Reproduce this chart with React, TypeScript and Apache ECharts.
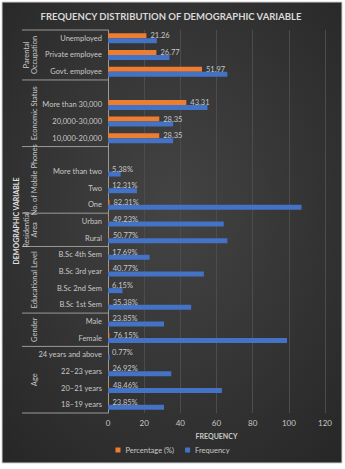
import React, { useEffect, useRef } from "react";
import * as echarts from "echarts";

const titleText = "FREQUENCY DISTRIBUTION OF DEMOGRAPHIC VARIABLE";

// top to bottom
const categories = [
  "Unemployed", "Private employee", "Govt. employee",
  " ", "More than 30,000", "20,000-30,000", "10,000-20,000",
  "  ", "More than two", "Two", "One",
  "Urban", "Rural",
  "B.Sc 4th Sem", "B.Sc 3rd year", "B.Sc 2nd Sem", "B.Sc 1st Sem",
  "Male", "Female",
  "24 years and above", "22–23 years", "20–21 years", "18–19 years",
];

const frequency = [
  27, 34, 66,
  null, 55, 36, 36,
  null, 7, 16, 107,
  64, 66,
  23, 53, 8, 46,
  31, 99,
  1, 35, 63, 31,
];

const percentage = [
  21.26, 26.77, 51.97,
  null, 43.31, 28.35, 28.35,
  null, 0.0538, 0.1231, 0.8231,
  0.4923, 0.5077,
  0.1769, 0.4077, 0.0615, 0.3538,
  0.2385, 0.7615,
  0.0077, 0.2692, 0.4846, 0.2385,
];

// group name, number of categories
const groups: [string, number][] = [
  ["Parental\nOccupation", 3],
  ["Economic Status", 4],
  ["No. of Mobile Phones", 4],
  ["Residential\nArea", 2],
  ["Educational Level", 4],
  ["Gender", 2],
  ["Age", 4],
];

const xTicks = [0, 120, 20];

const FONT = "Lato, 'Liberation Sans', sans-serif";
const LABEL = "#c8c8c8";
const LINE = "#9a9a9a";

export default function App() {
  const ref = useRef<HTMLDivElement>(null);
  useEffect(() => {
    const chart = echarts.init(ref.current!, null, { renderer: "svg" });
    const option: any = {
      animation: false,
      grid: { left: 108, right: 20, top: 30, bottom: 56 },
      legend: {
        bottom: 10,
        left: "center",
        icon: "rect",
        itemWidth: 5,
        itemHeight: 5,
        itemGap: 11,
        textStyle: { color: LABEL, fontSize: 7.5, fontFamily: FONT },
        data: ["Percentage (%)", "Frequency"],
      },
      xAxis: {
        type: "value",
        min: xTicks[0],
        max: xTicks[1],
        interval: xTicks[2],
        name: "FREQUENCY",
        nameLocation: "middle",
        nameGap: 19,
        nameTextStyle: { color: LABEL, fontSize: 7, fontWeight: "bold", fontFamily: FONT },
        axisLine: { show: false },
        axisTick: { show: false },
        axisLabel: { color: LABEL, fontSize: 8, fontFamily: FONT, margin: 6 },
        splitLine: { lineStyle: { color: "#4c4c4c", width: 1 } },
      },
      yAxis: {
        type: "category",
        inverse: true,
        data: categories,
        axisLine: { show: true, lineStyle: { color: LINE, width: 1 } },
        axisTick: { show: false },
        axisLabel: { color: LABEL, fontSize: 7.5, fontFamily: FONT, margin: 6, interval: 0 },
        splitLine: { show: false },
      },
      series: [
        {
          name: "Percentage (%)",
          type: "bar",
          data: percentage,
          barWidth: 5,
          barGap: "0%",
          itemStyle: { color: "#ED7D31" },
          label: {
            show: true,
            position: "right",
            distance: 4,
            color: LABEL,
            fontSize: 7.5,
            fontFamily: FONT,
            formatter: (p: any) =>
              p.value == null ? "" : p.value < 1 ? (p.value * 100).toFixed(2) + "%" : p.value.toFixed(2),
          },
        },
        {
          name: "Frequency",
          type: "bar",
          data: frequency,
          barWidth: 5,
          barGap: "0%",
          itemStyle: { color: "#4472C4" },
        },
      ],
    };
    chart.setOption(option);

    const y0 = chart.convertToPixel({ yAxisIndex: 0 }, 0) as number;
    const y1 = chart.convertToPixel({ yAxisIndex: 0 }, 1) as number;
    const h = y1 - y0;
    const axisX = chart.convertToPixel({ xAxisIndex: 0 }, 0) as number;
    const lineLeft = 22;
    const elements: any[] = [
      {
        type: "rect",
        z: -100,
        silent: true,
        shape: { x: 2, y: 2, width: 340, height: 461 },
        style: {
          fill: new echarts.graphic.RadialGradient(0.5, 0.45, 0.75, [
            { offset: 0, color: "#444444" },
            { offset: 1, color: "#262626" },
          ]),
          stroke: "#d0d0d0",
          lineWidth: 1,
        },
      },
      {
        type: "text",
        x: 171,
        y: 16,
        style: {
          text: titleText,
          fill: "#d9d9d9",
          font: "bold 9.5px " + FONT,
          align: "center",
          verticalAlign: "middle",
        },
      },
      {
        type: "text",
        x: 16,
        y: 221,
        rotation: Math.PI / 2,
        style: {
          text: "DEMOGRAPHIC VARIABLE",
          fill: "#e0e0e0",
          font: "bold 7px " + FONT,
          align: "center",
          verticalAlign: "middle",
        },
      },
    ];
    let idx = 0;
    const topY = y0 - h / 2;
    elements.push({
      type: "line",
      shape: { x1: lineLeft, y1: topY, x2: axisX, y2: topY },
      style: { stroke: LINE, lineWidth: 1 },
    });
    groups.forEach(([name, n]) => {
      const start = idx;
      idx += n;
      const sTop = (chart.convertToPixel({ yAxisIndex: 0 }, start) as number) - h / 2;
      const sBot = (chart.convertToPixel({ yAxisIndex: 0 }, idx - 1) as number) + h / 2;
      elements.push({
        type: "line",
        shape: { x1: lineLeft, y1: sBot, x2: axisX, y2: sBot },
        style: { stroke: LINE, lineWidth: 1 },
      });
      const twoLine = name.indexOf("\n") >= 0;
      elements.push({
        type: "text",
        x: twoLine ? 30 : 34,
        y: (sTop + sBot) / 2,
        rotation: Math.PI / 2,
        style: {
          text: name,
          fill: LABEL,
          font: "7.5px " + FONT,
          lineHeight: 8,
          align: "center",
          verticalAlign: "middle",
        },
      });
    });
    chart.setOption({ graphic: { elements } });
    return () => chart.dispose();
  }, []);
  return (
    <div
      ref={ref}
      style={{ position: "fixed", left: 0, top: 0, width: 345, height: 469, background: "#ffffff" }}
    />
  );
}
